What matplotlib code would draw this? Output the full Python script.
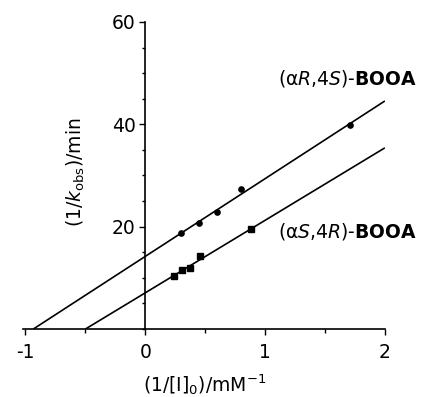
import numpy as np
import matplotlib
matplotlib.use("Agg")
import matplotlib.pyplot as plt
from matplotlib.ticker import MultipleLocator

# =========================
# DATA
# =========================
x_RS = [0.30, 0.45, 0.60, 0.80, 1.707]
y_RS = [18.7, 20.8, 22.8, 27.3, 39.9]

x_SR = [0.243, 0.31, 0.37, 0.46, 0.885]
y_SR = [10.3, 11.5, 12.0, 14.2, 19.45]

label_RS = r"(α$\it{R}$,4$\it{S}$)-$\bf{BOOA}$"
label_SR = r"(α$\it{S}$,4$\it{R}$)-$\bf{BOOA}$"

x_ticks = [-1, 0, 1, 2]
y_ticks = [20, 40, 60]

# =========================
# STYLE
# =========================
plt.rcParams["font.family"] = ["DejaVu Sans"]
plt.rcParams["mathtext.fontset"] = "custom"
plt.rcParams["mathtext.rm"] = "DejaVu Sans"
plt.rcParams["mathtext.it"] = "DejaVu Sans:italic"
plt.rcParams["mathtext.bf"] = "DejaVu Sans:bold"

fig = plt.figure(figsize=(4.22, 3.97), dpi=100)
ax = fig.add_axes([0.0545, 0.1713, 0.8575, 0.7733])

# =========================
# LINES (least squares fits)
# =========================
for xs, ys, mk in [(x_RS, y_RS, "o"), (x_SR, y_SR, "s")]:
    slope, icpt = np.polyfit(xs, ys, 1)
    x0 = -icpt / slope
    xl = np.array([x0, 2.0])
    ax.plot(xl, icpt + slope * xl, color="black", lw=1.2, solid_capstyle="butt")
    ax.plot(xs, ys, mk, color="black", ms=3.8, ls="none")

ax.text(2.268, 47.8, label_RS, fontsize=13.5, ha="right", va="baseline")
ax.text(2.268, 17.95, label_SR, fontsize=13.5, ha="right", va="baseline")

# =========================
# AXES
# =========================
ax.set_xlim(-1.02, 2.0)
ax.set_ylim(0, 60)
ax.spines["top"].set_visible(False)
ax.spines["right"].set_visible(False)
ax.spines["left"].set_position(("data", 0))
ax.spines["left"].set_linewidth(1.2)
ax.spines["bottom"].set_linewidth(1.2)

ax.set_xticks(x_ticks)
ax.set_xticklabels(["-1", "0", "1", "2"])
ax.xaxis.set_minor_locator(MultipleLocator(0.5))
ax.set_yticks(y_ticks)
ax.yaxis.set_minor_locator(MultipleLocator(5))

ax.tick_params(axis="x", which="major", length=4, width=1, pad=6, labelsize=13.5)
ax.tick_params(axis="x", which="minor", length=3, width=1)
ax.tick_params(axis="y", which="major", length=4, width=1, pad=3, labelsize=13.5)
ax.tick_params(axis="y", which="minor", length=2.5, width=1)

ax.set_xlabel(r"(1/[I]$_0$)/mM$^{-1}$", fontsize=13.5)
ax.xaxis.set_label_coords(0.503, -0.14)
ax.set_ylabel(r"(1/$\it{k}$$_{\rm obs}$)/min", fontsize=13.5)
ax.yaxis.set_label_coords(0.177, 0.51)

fig.savefig("out.png", dpi=100)
